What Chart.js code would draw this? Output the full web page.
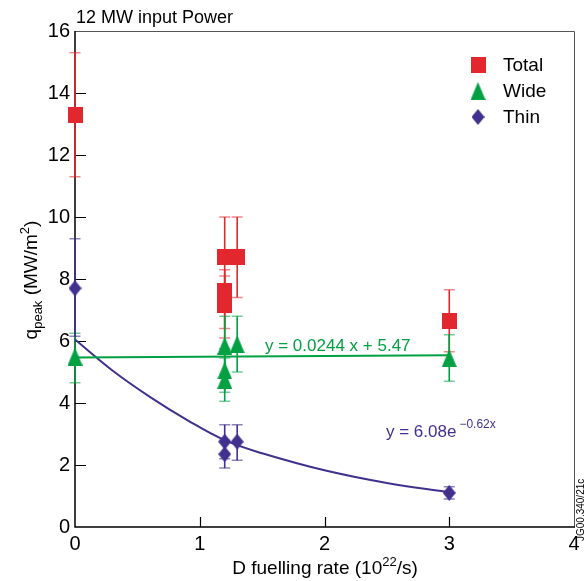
<!DOCTYPE html>
<html lang="en">
  <head>
    <meta charset="UTF-8" />
    <script src="https://cdn.jsdelivr.net/npm/chart.js"></script>
    <title>q peak vs fuelling</title>
    <style>
      body { margin: 0; background: #fff; }
      #wrap { width: 588px; height: 581px; position: relative; }
    </style>
  </head>
  <body>
    <div id="wrap"><canvas id="myChart" width="588" height="581"></canvas></div>
    <script>
      // data
      const totalX = [0, 1.2, 1.2, 1.2, 1.3, 3];
      const totalY = [13.3, 8.7, 7.6, 7.15, 8.7, 6.65];
      const totalLo = [11.3, 7.4, 6.4, 6.1, 7.4, 5.65];
      const totalHi = [15.3, 10.0, 8.3, 8.1, 10.0, 7.65];

      const wideX = [0, 1.2, 1.2, 1.2, 1.3, 3];
      const wideY = [5.5, 5.85, 5.05, 4.75, 5.9, 5.45];
      const wideLo = [4.65, 4.9, 4.35, 4.06, 5.0, 4.7];
      const wideHi = [6.25, 6.8, 5.75, 5.45, 6.8, 6.2];

      const thinX = [0, 1.2, 1.2, 1.3, 3];
      const thinY = [7.7, 2.75, 2.35, 2.75, 1.1];
      const thinLo = [6.15, 2.2, 1.9, 2.15, 0.9];
      const thinHi = [9.3, 3.3, 2.8, 3.3, 1.3];

      // fit lines, as drawn
      const wideFitX = [0, 3];
      const wideFitY = [5.47, 5.54];
      const thinFitX = [0, 0.3, 0.6, 0.9, 1.2, 1.5, 2, 2.5, 3];
      const thinFitY = [6.05, 5.05, 4.2, 3.45, 2.8, 2.38, 1.83, 1.42, 1.12];

      const xTicks = [0, 1, 2, 3, 4];
      const yTicks = [0, 2, 4, 6, 8, 10, 12, 14, 16];

      const RED = '#e2272f';
      const GREEN = '#00a043';
      const PURPLE = '#42308e';
      const FONT = '"Liberation Sans", Arial, sans-serif';

      function marker(kind, color) {
        const c = document.createElement('canvas');
        const g = c.getContext('2d');
        if (kind === 'square') {
          c.width = 15; c.height = 16;
          g.fillStyle = color; g.fillRect(0, 0, 15, 16);
        } else if (kind === 'triangle') {
          c.width = 15; c.height = 18;
          g.fillStyle = color;
          g.beginPath(); g.moveTo(7.5, 0); g.lineTo(15, 18); g.lineTo(0, 18); g.closePath(); g.fill();
        } else {
          c.width = 13; c.height = 16;
          g.fillStyle = color;
          g.beginPath(); g.moveTo(6.5, 0); g.lineTo(13, 8); g.lineTo(6.5, 16); g.lineTo(0, 8); g.closePath(); g.fill();
        }
        return c;
      }
      const sq = marker('square', RED);
      const tri = marker('triangle', GREEN);
      const dia = marker('diamond', PURPLE);

      const pts = (xs, ys) => xs.map((x, i) => ({ x: x, y: ys[i] }));

      // frame and ticks go under the data, then the error bars
      const errorBars = {
        id: 'errorBars',
        beforeDatasetsDraw(chart) {
          const ctx = chart.ctx;
          const a = chart.chartArea;
          const xs = chart.scales.x, ys = chart.scales.y;
          ctx.save();
          ctx.strokeStyle = '#555';
          ctx.lineWidth = 1;
          ctx.beginPath();
          ctx.moveTo(a.left, a.top + 0.5); ctx.lineTo(a.right + 0.5, a.top + 0.5); ctx.lineTo(a.right + 0.5, a.bottom);
          ctx.stroke();
          ctx.strokeStyle = '#000';
          ctx.lineWidth = 1.5;
          ctx.beginPath();
          ctx.moveTo(a.left, a.top); ctx.lineTo(a.left, a.bottom); ctx.lineTo(a.right + 1, a.bottom);
          ctx.stroke();
          ctx.lineWidth = 1.2;
          ctx.beginPath();
          yTicks.slice(1, -1).forEach(v => {
            const py = Math.round(ys.getPixelForValue(v)) + 0.5;
            ctx.moveTo(a.left, py); ctx.lineTo(a.left + 11, py);
          });
          xTicks.slice(1, -1).forEach(v => {
            const px = Math.round(xs.getPixelForValue(v)) + 0.5;
            ctx.moveTo(px, a.bottom); ctx.lineTo(px, a.bottom - 10);
          });
          ctx.stroke();

          const sets = [
            [totalX, totalLo, totalHi, RED, 'rgba(226,39,47,0.55)'],
            [wideX, wideLo, wideHi, GREEN, 'rgba(0,160,67,0.55)'],
            [thinX, thinLo, thinHi, PURPLE, 'rgba(66,48,142,0.6)']
          ];
          sets.forEach(([xv, lo, hi, col, capCol]) => {
            xv.forEach((x, i) => {
              const px = xs.getPixelForValue(x);
              const p1 = ys.getPixelForValue(lo[i]);
              const p2 = ys.getPixelForValue(hi[i]);
              ctx.strokeStyle = col;
              ctx.lineWidth = 1.6;
              ctx.beginPath();
              ctx.moveTo(px, p1); ctx.lineTo(px, p2);
              ctx.stroke();
              ctx.strokeStyle = capCol;
              ctx.lineWidth = 1.5;
              ctx.beginPath();
              ctx.moveTo(px - 5.5, p1); ctx.lineTo(px + 5.5, p1);
              ctx.moveTo(px - 5.5, p2); ctx.lineTo(px + 5.5, p2);
              ctx.stroke();
            });
          });
          ctx.restore();
        }
      };

      const decorations = {
        id: 'decorations',
        afterDraw(chart) {
          const ctx = chart.ctx;
          ctx.save();
          ctx.fillStyle = '#000';
          // title
          ctx.font = '18px ' + FONT;
          ctx.textAlign = 'left';
          ctx.textBaseline = 'alphabetic';
          ctx.fillText('12 MW input Power', 76, 23);

          // x axis title with superscript
          const big = '19px ' + FONT, small = '13px ' + FONT;
          const parts = [['D fuelling rate (10', big, 0], ['22', small, -8], ['/s)', big, 0]];
          let w = 0;
          parts.forEach(p => { ctx.font = p[1]; w += ctx.measureText(p[0]).width; });
          let x0 = 325 - w / 2;
          parts.forEach(p => { ctx.font = p[1]; ctx.fillText(p[0], x0, 574 + p[2]); x0 += ctx.measureText(p[0]).width; });

          // y axis title, rotated
          ctx.translate(37, 280);
          ctx.rotate(-Math.PI / 2);
          const yparts = [['q', big, 0], ['peak', small, 5], [' (MW/m', big, 0], ['2', small, -8], [')', big, 0]];
          w = 0;
          yparts.forEach(p => { ctx.font = p[1]; w += ctx.measureText(p[0]).width; });
          x0 = -w / 2;
          yparts.forEach(p => { ctx.font = p[1]; ctx.fillText(p[0], x0, p[2]); x0 += ctx.measureText(p[0]).width; });
          ctx.setTransform(1, 0, 0, 1, 0, 0);

          // legend
          const leg = [[sq, 'Total', 65], [tri, 'Wide', 91], [dia, 'Thin', 117]];
          ctx.font = '19px ' + FONT;
          ctx.textBaseline = 'middle';
          leg.forEach(([img, label, y]) => {
            ctx.drawImage(img, 478 - img.width / 2, y - img.height / 2);
            ctx.fillText(label, 503, y + 1);
          });

          // fit equations
          ctx.textBaseline = 'alphabetic';
          ctx.fillStyle = GREEN;
          ctx.font = '17px ' + FONT;
          ctx.fillText('y = 0.0244 x + 5.47', 265, 351);
          ctx.fillStyle = PURPLE;
          ctx.fillText('y = 6.08e', 386, 437);
          const ew = ctx.measureText('y = 6.08e').width;
          ctx.font = '12px ' + FONT;
          ctx.fillText('\u22120.62x', 386 + ew + 3, 428);

          // figure id
          ctx.fillStyle = '#000';
          ctx.font = '10px ' + FONT;
          ctx.translate(584, 541);
          ctx.rotate(-Math.PI / 2);
          ctx.fillText('JG00.340/21c', 0, 0);
          ctx.restore();
        }
      };

      const ctx = document.getElementById('myChart').getContext('2d');
      const myChart = new Chart(ctx, {
        type: 'scatter',
        data: {
          datasets: [
            { label: 'Wide fit', data: pts(wideFitX, wideFitY), showLine: true, borderColor: GREEN, borderWidth: 2, pointRadius: 0, clip: false },
            { label: 'Thin fit', data: pts(thinFitX, thinFitY), showLine: true, borderColor: PURPLE, borderWidth: 2, pointRadius: 0, tension: 0.4, clip: false },
            { label: 'Total', data: pts(totalX, totalY), pointStyle: sq, pointRadius: 8, clip: false },
            { label: 'Wide', data: pts(wideX, wideY), pointStyle: tri, pointRadius: 8, clip: false },
            { label: 'Thin', data: pts(thinX, thinY), pointStyle: dia, pointRadius: 8, clip: false }
          ]
        },
        options: {
          responsive: false,
          animation: false,
          layout: { padding: { top: 31, right: 14, left: 0, bottom: 0 } },
          plugins: { legend: { display: false }, tooltip: { enabled: false } },
          scales: {
            x: {
              type: 'linear', min: 0, max: 4,
              grid: { display: false, drawTicks: false },
              border: { display: false },
              ticks: { stepSize: 1, color: '#000', font: { size: 20, family: FONT }, padding: 5 },
              afterFit(scale) { scale.height = 54; }
            },
            y: {
              type: 'linear', min: 0, max: 16,
              grid: { display: false, drawTicks: false },
              border: { display: false },
              ticks: { stepSize: 2, color: '#000', font: { size: 20, family: FONT }, padding: 5 },
              afterFit(scale) { scale.width = 75; }
            }
          }
        },
        plugins: [errorBars, decorations]
      });
    </script>
  </body>
</html>
